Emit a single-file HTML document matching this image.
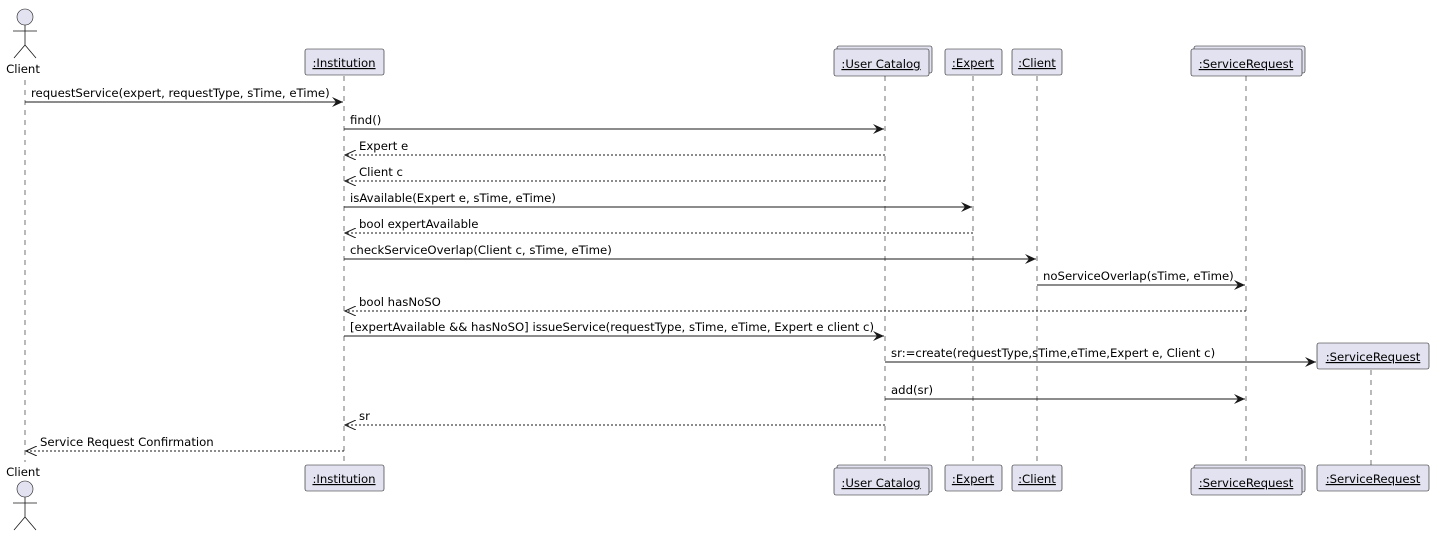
<!DOCTYPE html>
<html><head><meta charset="utf-8"><style>html,body{margin:0;padding:0;background:#fff}svg{display:block}text{font-family:"DejaVu Sans","Liberation Sans",sans-serif;font-size:11.7px;fill:#000}</style></head><body>
<svg width="1440" height="551" viewBox="0 0 1440 551" xmlns="http://www.w3.org/2000/svg">
<defs>
<marker id="a" markerWidth="12" markerHeight="10" refX="11" refY="5" orient="auto" markerUnits="userSpaceOnUse"><path d="M0,0 L11,5 L0,10 L4,5 Z" fill="#181818"/></marker>
<marker id="o" markerWidth="12" markerHeight="10" refX="11" refY="5" orient="auto" markerUnits="userSpaceOnUse"><path d="M0,0 L11,5 L0,10" fill="none" stroke="#181818" stroke-width="1"/></marker>
</defs>
<g stroke="#181818" stroke-width="0.6" stroke-dasharray="5,5">
<line x1="25" y1="80" x2="25" y2="462"/>
<line x1="344" y1="76" x2="344" y2="465"/>
<line x1="885" y1="76" x2="885" y2="465"/>
<line x1="973" y1="76" x2="973" y2="465"/>
<line x1="1037" y1="76" x2="1037" y2="465"/>
<line x1="1246" y1="76" x2="1246" y2="465"/>
<line x1="1371" y1="370" x2="1371" y2="465"/>
</g>
<g fill="#e2e2f0" stroke="#181818" stroke-width="0.6">
<circle cx="25" cy="17" r="8"/><circle cx="25" cy="489" r="8"/>
</g>
<g stroke="#181818" stroke-width="0.8" fill="none">
<path d="M25 25V45M13 31H37M14 58L25 45L36 58"/>
<path d="M25 497V517M13 503H37M14 530L25 517L36 530"/>
</g>
<text x="23" y="73" text-anchor="middle" font-size="12.5">Client</text>
<text x="23" y="476" text-anchor="middle" font-size="12.5">Client</text>
<g fill="#e2e2f0" stroke="#181818" stroke-width="0.6">
<rect x="305" y="49" width="79" height="26" rx="2"/>
<rect x="305" y="465" width="79" height="26" rx="2"/>
<rect x="837" y="46" width="95" height="27" rx="2"/><rect x="834" y="49" width="95" height="27" rx="2"/>
<rect x="837" y="465" width="95" height="27" rx="2"/><rect x="834" y="468" width="95" height="27" rx="2"/>
<rect x="945" y="49" width="57" height="26" rx="2"/><rect x="945" y="465" width="57" height="26" rx="2"/>
<rect x="1012" y="49" width="50" height="26" rx="2"/><rect x="1012" y="465" width="50" height="26" rx="2"/>
<rect x="1194" y="46" width="111" height="27" rx="2"/><rect x="1191" y="49" width="111" height="27" rx="2"/>
<rect x="1194" y="465" width="111" height="27" rx="2"/><rect x="1191" y="468" width="111" height="27" rx="2"/>
<rect x="1317" y="343" width="112" height="26" rx="2"/><rect x="1317" y="465" width="112" height="26" rx="2"/>
</g>
<g text-decoration="underline" text-anchor="middle" font-size="12.8">
<text x="344" y="67">:Institution</text><text x="344" y="483">:Institution</text>
<text x="881" y="68">:User Catalog</text><text x="881" y="487">:User Catalog</text>
<text x="973" y="67">:Expert</text><text x="973" y="483">:Expert</text>
<text x="1037" y="67">:Client</text><text x="1037" y="483">:Client</text>
<text x="1246" y="68">:ServiceRequest</text><text x="1246" y="487">:ServiceRequest</text>
<text x="1373" y="361">:ServiceRequest</text><text x="1373" y="483">:ServiceRequest</text>
</g>
<g stroke="#181818" stroke-width="1">
<line x1="25" y1="102" x2="343" y2="102" marker-end="url(#a)"/>
<line x1="344" y1="129" x2="884" y2="129" marker-end="url(#a)"/>
<line x1="885" y1="155" x2="345" y2="155" stroke-dasharray="2,2" marker-end="url(#o)"/>
<line x1="885" y1="181" x2="345" y2="181" stroke-dasharray="2,2" marker-end="url(#o)"/>
<line x1="344" y1="207" x2="972" y2="207" marker-end="url(#a)"/>
<line x1="973" y1="233" x2="345" y2="233" stroke-dasharray="2,2" marker-end="url(#o)"/>
<line x1="344" y1="259" x2="1036" y2="259" marker-end="url(#a)"/>
<line x1="1037" y1="285" x2="1245" y2="285" marker-end="url(#a)"/>
<line x1="1246" y1="311" x2="345" y2="311" stroke-dasharray="2,2" marker-end="url(#o)"/>
<line x1="344" y1="336" x2="884" y2="336" marker-end="url(#a)"/>
<line x1="885" y1="362" x2="1316" y2="362" marker-end="url(#a)"/>
<line x1="885" y1="399" x2="1245" y2="399" marker-end="url(#a)"/>
<line x1="885" y1="425" x2="345" y2="425" stroke-dasharray="2,2" marker-end="url(#o)"/>
<line x1="344" y1="451" x2="26" y2="451" stroke-dasharray="2,2" marker-end="url(#o)"/>
</g>
<text x="31" y="97">requestService(expert, requestType, sTime, eTime)</text>
<text x="350" y="124">find()</text>
<text x="359" y="150">Expert e</text>
<text x="359" y="176">Client c</text>
<text x="350" y="202">isAvailable(Expert e, sTime, eTime)</text>
<text x="359" y="228">bool expertAvailable</text>
<text x="350" y="254">checkServiceOverlap(Client c, sTime, eTime)</text>
<text x="1043" y="280">noServiceOverlap(sTime, eTime)</text>
<text x="359" y="306">bool hasNoSO</text>
<text x="350" y="331">[expertAvailable &amp;&amp; hasNoSO] issueService(requestType, sTime, eTime, Expert e client c)</text>
<text x="891" y="357">sr:=create(requestType,sTime,eTime,Expert e, Client c)</text>
<text x="891" y="394">add(sr)</text>
<text x="359" y="420">sr</text>
<text x="40" y="446">Service Request Confirmation</text>
</svg>
</body></html>
